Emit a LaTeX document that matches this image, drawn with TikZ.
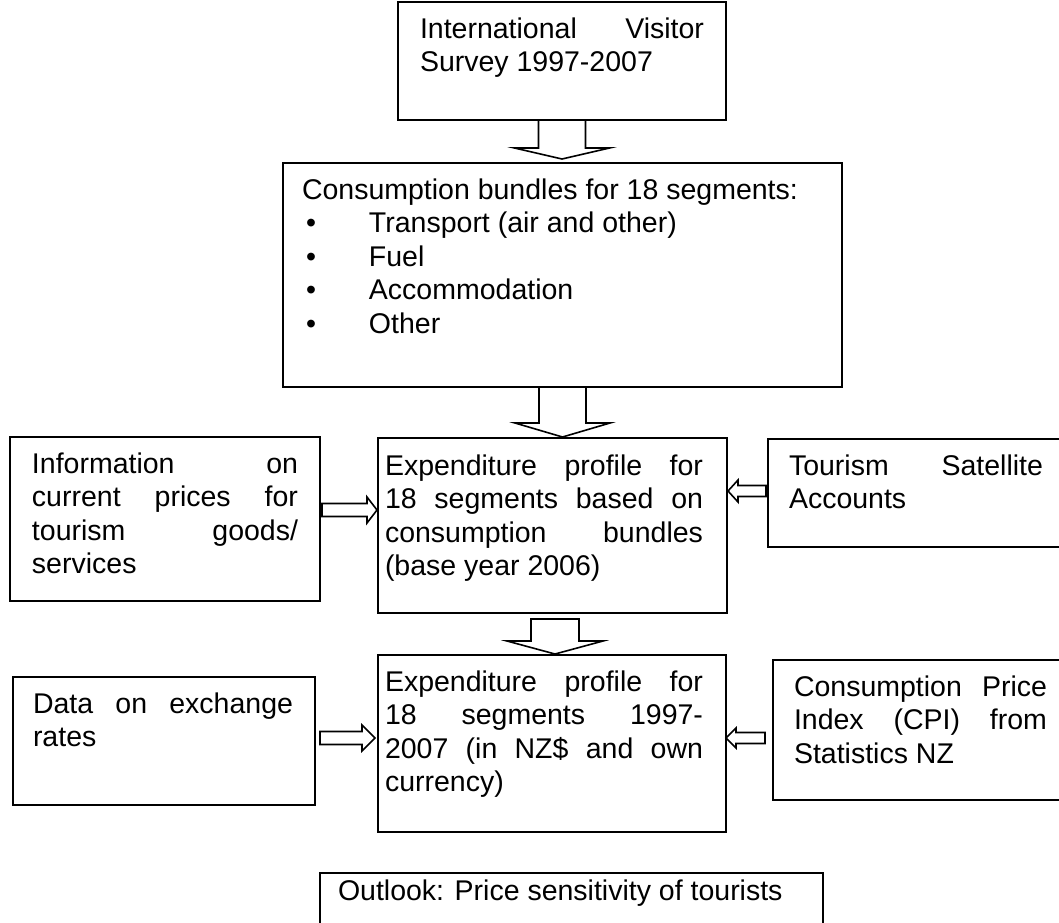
\documentclass[tikz,border=0pt]{standalone}
\usepackage{fontspec}
\setmainfont{Liberation Sans}
\usetikzlibrary{calc}

\newlength{\px}\setlength{\px}{0.5pt}
% box text: width, height, left pad, right pad, first baseline, lines
\newcommand{\boxtext}[6]{\parbox[t][#2\px][t]{#1\px}{\leftskip=#3\px\rightskip=#4\px\rule{0pt}{#5\px}#6}}
\newcommand{\bul}{\makebox[67\px][l]{\hspace*{4\px}\textbullet}}
% block arrow: tail, tip, shaft half width, head half width, head length
\newcommand{\blockarrow}[5]{%
	\coordinate (bh) at ($(#2)!#5!(#1)$);
	\draw[blk] ($(#1)!#3!90:(#2)$) -- ($(bh)!#3!90:(#2)$) -- ($(bh)!#4!90:(#2)$) -- (#2)
		-- ($(bh)!#4!-90:(#2)$) -- ($(bh)!#3!-90:(#2)$) -- ($(#1)!#3!-90:(#2)$) -- cycle;}

\tikzset{
	box/.style={draw, line width=1pt, inner sep=0pt, outer sep=0pt, anchor=north west,
		font=\fontsize{14.25pt}{16.75pt}\selectfont},
	blk/.style={draw, fill=white, line width=0.8pt, line join=miter}
}

\begin{document}
\begin{tikzpicture}[x=0.5pt, y=-0.5pt]
	\useasboundingbox (0,0) rectangle (1059,922);
	\clip (0,0) rectangle (1059,922);
	\node[box] (ivs) at (398,2) {\boxtext{328}{118}{22}{22}{36}{International\hfill Visitor\\Survey 1997-2007}};
	\node[box] (bundles) at (283,163) {\boxtext{559}{224}{19}{20}{36}{Consumption bundles for 18 segments:\\
		\bul Transport (air and other)\\ \bul Fuel\\ \bul Accommodation\\ \bul Other}};
	\node[box] (info) at (10,437) {\boxtext{310}{164}{22}{22}{36}{Information\hfill on\\current\hfill prices\hfill for\\tourism\hfill goods/\\services}};
	\node[box] (expa) at (378,438) {\boxtext{349}{175}{7}{24}{37}{Expenditure\hfill profile\hfill for\\18\hfill segments\hfill based\hfill on\\consumption\hfill bundles\\(base year 2006)}};
	\node[box] (tsa) at (768,439) {\boxtext{298}{108}{21}{23}{36}{Tourism\hfill Satellite\\Accounts}};
	\node[box] (rates) at (13,677) {\boxtext{302}{128}{20}{22}{36}{Data\hfill on\hfill exchange\\rates}};
	\node[box] (expb) at (378,655) {\boxtext{348}{177}{7}{23}{36}{Expenditure\hfill profile\hfill for\\18\hfill segments\hfill 1997-\\2007\hfill (in\hfill NZ\$\hfill and\hfill own\\currency)}};
	\node[box] (cpi) at (773,660) {\boxtext{296}{140}{21}{22}{36}{Consumption\hfill Price\\Index\hfill (CPI)\hfill from\\Statistics NZ}};
	\node[box] (outlook) at (320,873) {\boxtext{503}{100}{18}{20}{27}{Outlook: Price sensitivity of tourists}};

	% downward arrows
	\coordinate (a1) at ($(ivs.south |- bundles.north)+(0,-4)$);
	\blockarrow{ivs.south}{a1}{11.75pt}{23.75pt}{5.5pt}
	\coordinate (a2) at ($(bundles.south |- expa.north)+(0,-1)$);
	\blockarrow{bundles.south}{a2}{11.75pt}{23.75pt}{7pt}
	\coordinate (t3) at ($(expa.south)+(2.5,6)$);
	\coordinate (a3) at ($(t3 |- expb.north)+(0,-1)$);
	\blockarrow{t3}{a3}{12pt}{24pt}{6.5pt}
	% side arrows
	\coordinate (t4) at ($(info.east)+(2,-9)$);
	\coordinate (a4) at ($(t4 -| expa.west)+(-1,0)$);
	\blockarrow{t4}{a4}{3.25pt}{6.5pt}{5pt}
	\coordinate (t5) at ($(tsa.west)+(-2,-2)$);
	\coordinate (a5) at ($(t5 -| expa.east)+(1,0)$);
	\blockarrow{t5}{a5}{2.75pt}{5.5pt}{5pt}
	\coordinate (t6) at ($(rates.east)+(5,-3)$);
	\coordinate (a6) at ($(t6 -| expb.west)+(-3,0)$);
	\blockarrow{t6}{a6}{3.25pt}{6.5pt}{6.5pt}
	\coordinate (t7) at ($(cpi.west)+(-8,8)$);
	\coordinate (a7) at (t7 -| expb.east);
	\blockarrow{t7}{a7}{2.75pt}{5pt}{5pt}
\end{tikzpicture}
\end{document}
